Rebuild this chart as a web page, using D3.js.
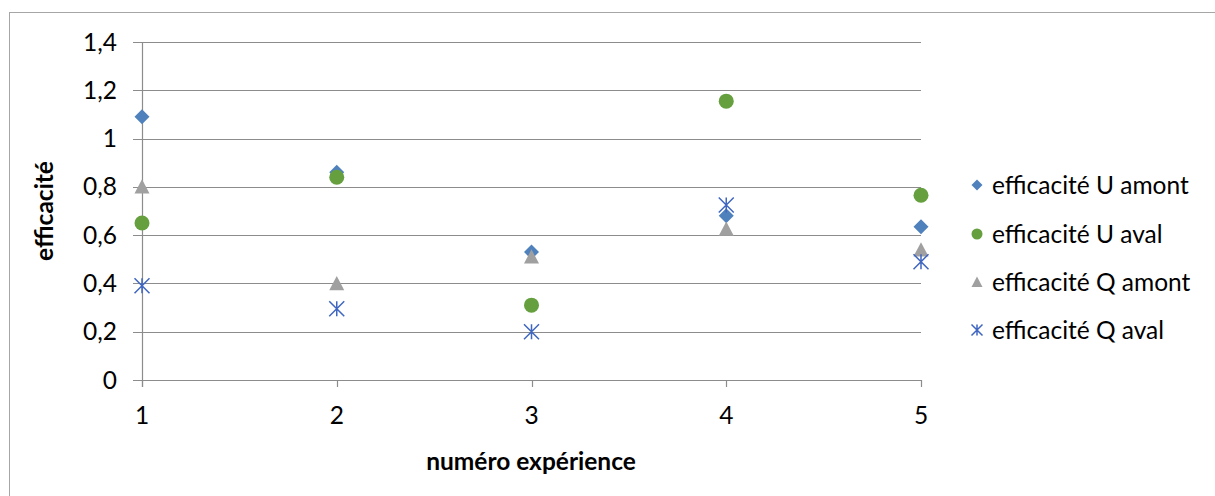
<!DOCTYPE html>
<html><head><meta charset="utf-8">
<script src="https://cdn.jsdelivr.net/npm/d3@7"></script>
<style>body{margin:0;background:#fff}svg{display:block}text{font-family:Lato,"Open Sans",sans-serif;fill:#000}</style>
</head><body><svg id="c" width="1215" height="496"></svg>
<script>
const experiences = [1, 2, 3, 4, 5];
const uAmont = [1.09, 0.86, 0.53, 0.68, 0.635];
const uAval = [0.65, 0.84, 0.31, 1.155, 0.765];
const qAmont = [0.80, 0.40, 0.51, 0.625, 0.54];
const qAval = [0.39, 0.295, 0.20, 0.725, 0.49];
const yTicks = [0, 0.2, 0.4, 0.6, 0.8, 1, 1.2, 1.4];
const seriesNames = ["efficacité U amont", "efficacité U aval", "efficacité Q amont", "efficacité Q aval"];
const seriesColors = ["#4F81BD", "#66A03E", "#A0A0A0", "#3F66C0"];
const seriesShapes = ["diamond", "circle", "triangle", "star"];
const seriesData = [uAmont, uAval, qAmont, qAval];

const svg = d3.select("#c");
svg.append("rect").attr("x", 9.5).attr("y", 12.5).attr("width", 1230).attr("height", 500)
  .attr("fill", "none").attr("stroke", "#A6A6A6").attr("stroke-width", 1);

const x = d3.scaleLinear().domain([1, 5]).range([142, 921]);
const y = d3.scaleLinear().domain([0, 1.4]).range([380, 42]);
const fmt = d => String(d).replace(".", ",");
const FS = 24.5;

svg.append("g").selectAll("line").data(yTicks).join("line")
  .attr("x1", 133).attr("x2", 921)
  .attr("y1", d => Math.round(y(d)) + 0.5).attr("y2", d => Math.round(y(d)) + 0.5)
  .attr("stroke", "#8C8C8C").attr("stroke-width", 1.2);
svg.append("line").attr("x1", 142.5).attr("x2", 142.5).attr("y1", y(1.4)).attr("y2", 387)
  .attr("stroke", "#8C8C8C").attr("stroke-width", 1.2);
svg.append("g").selectAll("line").data(experiences).join("line")
  .attr("x1", d => Math.round(x(d)) + 0.5).attr("x2", d => Math.round(x(d)) + 0.5)
  .attr("y1", 380).attr("y2", 387).attr("stroke", "#8C8C8C").attr("stroke-width", 1.2);

svg.append("g").selectAll("text").data(yTicks).join("text")
  .attr("x", 117).attr("y", d => y(d)).attr("dy", "0.35em").attr("text-anchor", "end")
  .attr("font-size", FS).text(fmt);
svg.append("g").selectAll("text").data(experiences).join("text")
  .attr("x", d => x(d)).attr("y", 415).attr("dy", "0.35em").attr("text-anchor", "middle")
  .attr("font-size", FS).text(d => d);

svg.append("text").attr("x", 531).attr("y", 461).attr("dy", "0.35em").attr("text-anchor", "middle")
  .attr("font-size", FS).attr("font-weight", "bold").text("numéro expérience");
svg.append("text").attr("transform", "translate(44,211) rotate(-90)").attr("dy", "0.35em")
  .attr("text-anchor", "middle").attr("font-size", FS).attr("font-weight", "bold").text("efficacité");

function drawMarker(g, shape, color, s) {
  if (shape === "diamond") {
    g.append("path").attr("d", `M0,${-s/2}L${s/2},0L0,${s/2}L${-s/2},0Z`).attr("fill", color);
  } else if (shape === "circle") {
    g.append("circle").attr("r", s/2).attr("fill", color);
  } else if (shape === "triangle") {
    g.append("path").attr("d", `M0,${-s*0.5}L${s*0.5},${s*0.45}L${-s*0.5},${s*0.45}Z`).attr("fill", color);
  } else {
    const h = s/2;
    g.append("path").attr("d", `M${-h},${-h}L${h},${h}M${-h},${h}L${h},${-h}M0,${-h}L0,${h}`)
      .attr("stroke", color).attr("stroke-width", 1.5).attr("fill", "none");
  }
}

seriesData.forEach((vals, i) => {
  const g = svg.append("g");
  vals.forEach((v, j) => {
    const m = g.append("g").attr("transform", `translate(${x(experiences[j])},${y(v)})`);
    drawMarker(m, seriesShapes[i], seriesColors[i], 15);
  });
});

const legendY = [185, 234, 282, 330];
seriesNames.forEach((name, i) => {
  const m = svg.append("g").attr("transform", `translate(977,${legendY[i]})`);
  drawMarker(m, seriesShapes[i], seriesColors[i], 11);
  svg.append("text").attr("x", 992).attr("y", legendY[i]).attr("dy", "0.35em")
    .attr("font-size", FS).text(name);
});
</script></body></html>
